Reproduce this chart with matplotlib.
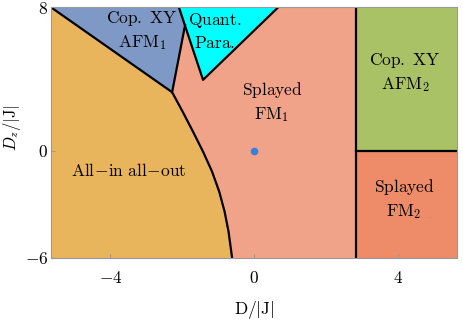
import matplotlib
matplotlib.use("Agg")
import matplotlib.pyplot as plt

plt.rcParams['mathtext.fontset'] = 'cm'
plt.rcParams['font.family'] = 'serif'
plt.rcParams['font.serif'] = ['cmr10', 'DejaVu Serif']

xmin, xmax = -5.65, 5.65
ymin, ymax = -6, 8
x_split = 2.83   # vertical boundary
y_split = 0      # horizontal boundary on the right

# all-in all-out / rest boundary (top-left corner down to bottom)
curve_x = [-5.65, -2.28, -1.99, -1.70, -1.42, -1.17, -0.97, -0.82, -0.71, -0.61]
curve_y = [8, 3.26, 2.18, 1.06, -0.06, -1.17, -2.29, -3.41, -4.53, -6]

# cop. XY AFM1 / splayed FM1 boundary
afm1_x = [-2.28, -1.92]
afm1_y = [3.26, 7.0]

# quantum paramagnet triangle
qp_x = [-2.09, -1.42, 0.67]
qp_y = [8, 3.95, 8]

c_orange = '#e8b55c'
c_blue = '#7f99c6'
c_cyan = '#00ffff'
c_salmon = '#f1a389'
c_green = '#aac266'
c_fm2 = '#ee8b68'

fig = plt.figure(figsize=(4.64, 3.2), dpi=100)
ax = fig.add_axes([0.110, 0.194, 0.875, 0.783])

# splayed FM1 background
ax.fill([xmin, x_split, x_split, xmin], [ymin, ymin, ymax, ymax], color=c_salmon, lw=0)
# all-in all-out
ax.fill(curve_x + [xmin], curve_y + [ymin], color=c_orange, lw=0)
# cop XY AFM1
ax.fill([xmin, curve_x[1], afm1_x[1], qp_x[0]], [ymax, curve_y[1], afm1_y[1], ymax], color=c_blue, lw=0)
# quantum para
ax.fill(qp_x, qp_y, color=c_cyan, lw=0)
# right side
ax.fill([x_split, xmax, xmax, x_split], [y_split, y_split, ymax, ymax], color=c_green, lw=0)
ax.fill([x_split, xmax, xmax, x_split], [ymin, ymin, y_split, y_split], color=c_fm2, lw=0)

lw = 1.6
ax.plot(curve_x, curve_y, color='k', lw=lw, solid_capstyle='butt', solid_joinstyle='round')
ax.plot(afm1_x, afm1_y, color='k', lw=lw)
ax.plot(qp_x, qp_y, color='k', lw=lw)
ax.plot([x_split, x_split], [ymin, ymax], color='k', lw=lw)
ax.plot([x_split, xmax], [y_split, y_split], color='k', lw=lw)

ax.plot([0], [0], 'o', color='#3a80d8', ms=4.5)

fs = 12.5
ls = 1.35
ax.text(-3.12, 6.69, r'$\mathrm{Cop.\ XY}$' + '\n' + r'$\mathrm{AFM}_1$', ha='center', va='center', fontsize=fs, linespacing=ls)
ax.text(-1.09, 6.69, r'$\mathrm{Quant.}$' + '\n' + r'$\mathrm{Para.}$', ha='center', va='center', fontsize=fs, linespacing=ls)
ax.text(0.5, 2.72, r'$\mathrm{Splayed}$' + '\n' + r'$\mathrm{FM}_1$', ha='center', va='center', fontsize=fs, linespacing=ls)
ax.text(4.2, 4.34, r'$\mathrm{Cop.\ XY}$' + '\n' + r'$\mathrm{AFM}_2$', ha='center', va='center', fontsize=fs, linespacing=ls)
ax.text(4.18, -2.7, r'$\mathrm{Splayed}$' + '\n' + r'$\mathrm{FM}_2$', ha='center', va='center', fontsize=fs, linespacing=ls)
ax.text(-3.5, -1.13, r'$\mathrm{All\!-\!in\ all\!-\!out}$', ha='center', va='center', fontsize=fs)

ax.set_xlim(xmin, xmax)
ax.set_ylim(ymin, ymax)
ax.set_xticks([-4, 0, 4])
ax.set_xticklabels([r'$-4$', r'$0$', r'$4$'], fontsize=fs)
ax.set_yticks([-6, 0, 8])
ax.set_yticklabels([r'$-6$', r'$0$', r'$8$'], fontsize=fs)
ax.tick_params(direction='in', length=3, color='#999999')
ax.tick_params(axis='x', pad=9)
ax.tick_params(axis='y', pad=2)
for s in ax.spines.values():
    s.set_color('#999999')
ax.set_xlabel(r'$\mathrm{D}/|\mathrm{J}|$', fontsize=fs)
ax.set_ylabel(r'$D_z/|\mathrm{J}|$', fontsize=12)
ax.xaxis.set_label_coords(0.5, -0.165)
ax.yaxis.set_label_coords(-0.07, 0.52)

fig.savefig('out.png', dpi=100)
